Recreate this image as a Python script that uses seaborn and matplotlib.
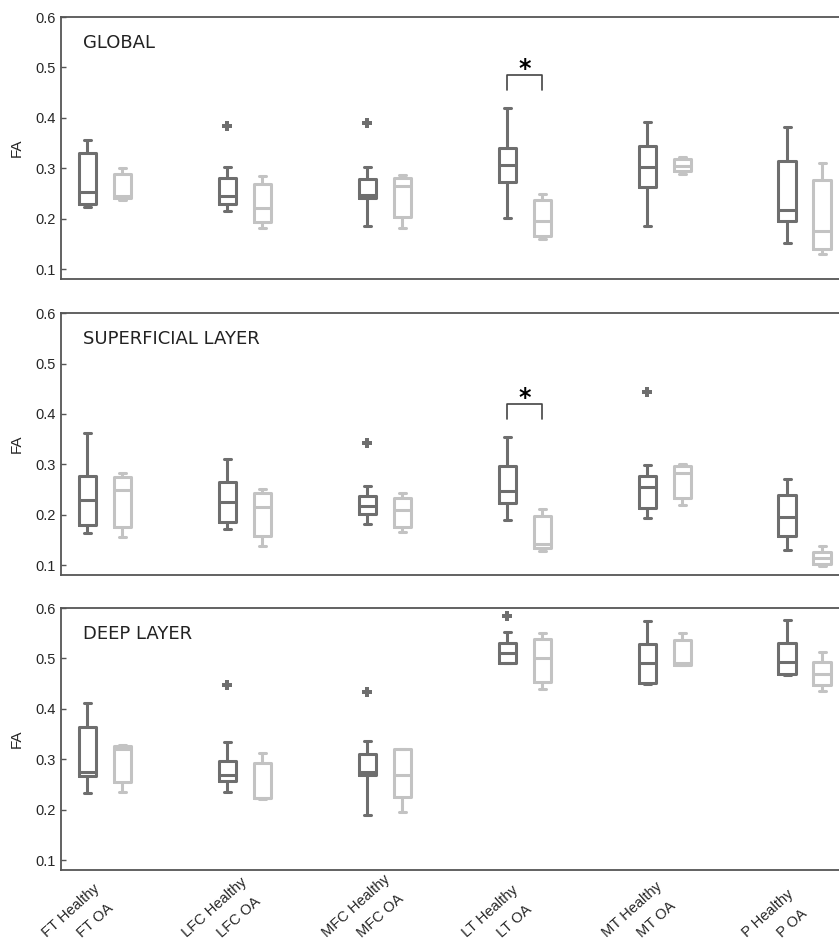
import numpy as np
import pandas as pd
import seaborn as sns
import matplotlib.pyplot as plt
import matplotlib.transforms as mtransforms

regions = ["FT", "LFC", "MFC", "LT", "MT", "P"]

# five-number summaries per region: whisker low, Q1, median, Q3, whisker high
global_healthy = [
    [0.224, 0.230, 0.254, 0.330, 0.357],
    [0.215, 0.229, 0.246, 0.281, 0.303],
    [0.186, 0.241, 0.247, 0.279, 0.302],
    [0.201, 0.273, 0.307, 0.341, 0.419],
    [0.186, 0.263, 0.302, 0.345, 0.392],
    [0.153, 0.196, 0.218, 0.314, 0.382],
]
global_oa = [
    [0.238, 0.242, 0.246, 0.289, 0.300],
    [0.183, 0.194, 0.222, 0.270, 0.285],
    [0.182, 0.203, 0.265, 0.281, 0.287],
    [0.161, 0.167, 0.195, 0.237, 0.250],
    [0.289, 0.295, 0.305, 0.318, 0.322],
    [0.130, 0.141, 0.176, 0.277, 0.310],
]
global_out_region = ["LFC", "MFC"]
global_out_fa = [0.384, 0.390]

superficial_healthy = [
    [0.164, 0.180, 0.229, 0.278, 0.362],
    [0.172, 0.186, 0.226, 0.266, 0.311],
    [0.182, 0.202, 0.218, 0.237, 0.257],
    [0.190, 0.224, 0.247, 0.296, 0.354],
    [0.194, 0.214, 0.255, 0.278, 0.298],
    [0.130, 0.158, 0.195, 0.240, 0.272],
]
superficial_oa = [
    [0.156, 0.177, 0.249, 0.275, 0.283],
    [0.139, 0.158, 0.216, 0.243, 0.251],
    [0.166, 0.177, 0.210, 0.234, 0.243],
    [0.129, 0.134, 0.142, 0.197, 0.212],
    [0.220, 0.233, 0.283, 0.296, 0.301],
    [0.098, 0.103, 0.115, 0.127, 0.139],
]
superficial_out_region = ["MFC", "MT"]
superficial_out_fa = [0.343, 0.443]

deep_healthy = [
    [0.233, 0.268, 0.276, 0.364, 0.411],
    [0.236, 0.258, 0.270, 0.296, 0.335],
    [0.190, 0.270, 0.276, 0.311, 0.336],
    [0.491, 0.492, 0.510, 0.530, 0.552],
    [0.450, 0.452, 0.492, 0.529, 0.575],
    [0.468, 0.469, 0.493, 0.530, 0.577],
]
deep_oa = [
    [0.236, 0.256, 0.321, 0.327, 0.329],
    [0.221, 0.223, 0.224, 0.292, 0.312],
    [0.195, 0.226, 0.270, 0.321, 0.321],
    [0.440, 0.454, 0.501, 0.538, 0.550],
    [0.487, 0.488, 0.492, 0.537, 0.550],
    [0.436, 0.447, 0.469, 0.493, 0.512],
]
deep_out_region = ["LFC", "MFC", "LT"]
deep_out_fa = [0.447, 0.434, 0.585]

# significance brackets (LT Healthy vs LT OA): bracket top, leg bottom
global_bracket = [0.485, 0.455]
superficial_bracket = [0.419, 0.390]

panel_titles = ["GLOBAL", "SUPERFICIAL LAYER", "DEEP LAYER"]

palette = {"Healthy": "#6e6e6e", "OA": "#c3c3c3"}
spine_col = "#555555"


def panel_frame(healthy, oa):
    rows = []
    for i, r in enumerate(regions):
        for grp, stats, off in (("Healthy", healthy[i], 0), ("OA", oa[i], 1)):
            for v in stats:
                rows.append({"pos": 4 * i + off, "group": grp, "FA": v})
    return pd.DataFrame(rows)


sns.set_theme(style="ticks")
plt.rcParams["font.family"] = ["Liberation Sans", "DejaVu Sans"]

fig = plt.figure(figsize=(8.39, 9.5), dpi=100)
axes_rect = [
    [0.0727, 0.7063, 0.939, 0.2758],
    [0.0727, 0.3947, 0.939, 0.2758],
    [0.0727, 0.0842, 0.939, 0.2758],
]

panels = [
    (global_healthy, global_oa, global_out_region, global_out_fa, global_bracket),
    (superficial_healthy, superficial_oa, superficial_out_region, superficial_out_fa, superficial_bracket),
    (deep_healthy, deep_oa, deep_out_region, deep_out_fa, None),
]

positions = []
labels = []
for i, r in enumerate(regions):
    positions += [4 * i, 4 * i + 1]
    labels += [f"{r} Healthy", f"{r} OA"]

for k, (healthy, oa, out_reg, out_fa, bracket) in enumerate(panels):
    ax = fig.add_axes(axes_rect[k])
    df = panel_frame(healthy, oa)
    sns.boxplot(data=df, x="pos", y="FA", hue="group", palette=palette,
                native_scale=True, dodge=False, fill=False, whis=(0, 100),
                width=0.5, linewidth=2.2, legend=False, ax=ax, capwidths=0.2)

    out_x = [4 * regions.index(r) for r in out_reg]
    sns.scatterplot(x=out_x, y=out_fa, marker="P", s=48, color=palette["Healthy"],
                    linewidth=0, ax=ax, legend=False, zorder=3)

    if bracket is not None:
        lt = 4 * regions.index("LT")
        ax.plot([lt, lt, lt + 1, lt + 1],
                [bracket[1], bracket[0], bracket[0], bracket[1]],
                color="#444444", lw=1.2)
        ax.text(lt + 0.5, bracket[0] + 0.012, "*", ha="center", va="center",
                fontsize=17, color="black", family="DejaVu Sans",
                fontweight="bold")

    ax.set_xlim(-0.757, 21.76)
    ax.set_ylim(0.081, 0.6)
    ax.set_yticks([0.1, 0.2, 0.3, 0.4, 0.5, 0.6])
    ax.set_yticklabels(["0.1", "0.2", "0.3", "0.4", "0.5", "0.6"])
    ax.set_ylabel("FA", fontsize=11, labelpad=8)
    ax.set_xlabel("")
    ax.tick_params(axis="y", direction="in", length=3.5, width=1,
                   color=spine_col, labelsize=10.5, pad=4)
    for s in ax.spines.values():
        s.set_color(spine_col)
        s.set_linewidth(1.3)

    ax.text(0.028, 0.90, panel_titles[k], transform=ax.transAxes,
            ha="left", va="center", fontsize=13, family="DejaVu Sans",
            color="#222222")

    ax.set_xticks(positions)
    if k < 2:
        ax.set_xticklabels([])
        ax.tick_params(axis="x", length=0)
    else:
        ax.set_xticklabels(labels, rotation=42, ha="left", va="bottom",
                           fontsize=10.5)
        ax.tick_params(axis="x", length=0, pad=0)
        offset = mtransforms.ScaledTranslation(-0.48, -0.70, fig.dpi_scale_trans)
        for lbl in ax.get_xticklabels():
            lbl.set_transform(lbl.get_transform() + offset)

fig.savefig("out.png", dpi=100)
